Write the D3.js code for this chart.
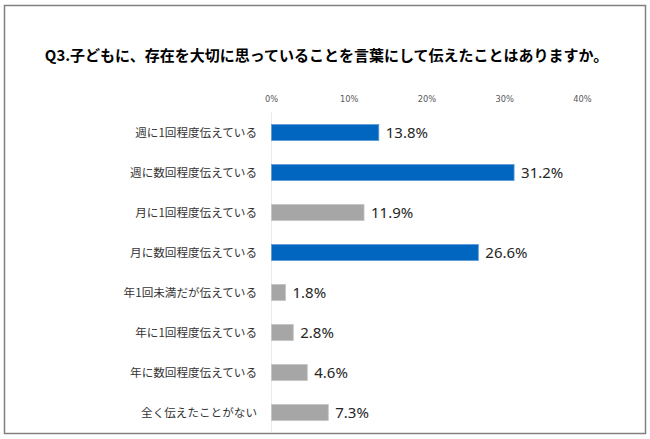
<!DOCTYPE html>
<html><head><meta charset="utf-8">
<script src="https://cdn.jsdelivr.net/npm/d3@7"></script>
<style>body{margin:0;background:#fff}svg{display:block}</style>
</head><body>
<script>
const title = "Q3.子どもに、存在を大切に思っていることを言葉にして伝えたことはありますか。";
const categories = ["週に1回程度伝えている","週に数回程度伝えている","月に1回程度伝えている","月に数回程度伝えている","年1回未満だが伝えている","年に1回程度伝えている","年に数回程度伝えている","全く伝えたことがない"];
const values = [13.8, 31.2, 11.9, 26.6, 1.8, 2.8, 4.6, 7.3];
const highlighted = [true, true, false, true, false, false, false, false];
const ticks = [0, 10, 20, 30, 40];

const W = 650, H = 439;
const svg = d3.select("body").append("svg").attr("width", W).attr("height", H);

svg.append("rect").attr("x", 4.5).attr("y", 5.5).attr("width", 641).attr("height", 428)
  .attr("fill", "#fff").attr("stroke", "#808080").attr("stroke-width", 1.5);

svg.append("text").attr("x", 326.5).attr("y", 60.5).attr("text-anchor", "middle")
  .attr("font-family", "'Noto Sans CJK JP', sans-serif").attr("font-weight", "bold")
  .attr("font-size", 15).attr("fill", "#000").text(title);

const x = d3.scaleLinear().domain([0, 40]).range([271.5, 582.5]);
const y = d3.scaleBand().domain(categories).range([112.5, 432.5]).paddingInner(0.6).paddingOuter(0.3);

// tick labels
svg.append("g").selectAll("text").data(ticks).join("text")
  .attr("x", d => x(d)).attr("y", 102).attr("text-anchor", "middle")
  .attr("font-family", "'DejaVu Sans', sans-serif").attr("font-size", 8.3)
  .attr("fill", "#595959").text(d => d + "%");

// zero line
svg.append("line").attr("x1", x(0)).attr("x2", x(0)).attr("y1", 112).attr("y2", 432)
  .attr("stroke", "#ebebeb").attr("stroke-width", 1);

const data = categories.map((c, i) => ({c, v: values[i], h: highlighted[i]}));

svg.append("g").selectAll("rect").data(data).join("rect")
  .attr("x", x(0)).attr("y", d => y(d.c))
  .attr("width", d => x(d.v) - x(0)).attr("height", y.bandwidth())
  .attr("fill", d => d.h ? "#0066c0" : "#a6a6a6")
  .attr("stroke", d => d.h ? "#5b9bd5" : "#c4c4c4").attr("stroke-width", 0.8);

svg.append("g").selectAll("text").data(data).join("text")
  .attr("x", 257).attr("y", d => y(d.c) + y.bandwidth() / 2 + 4.2)
  .attr("text-anchor", "end")
  .attr("font-family", "'Noto Sans CJK JP', sans-serif").attr("font-size", 11.6)
  .attr("fill", "#333").text(d => d.c);

svg.append("g").selectAll("text").data(data).join("text")
  .attr("x", d => x(d.v) + 7).attr("y", d => y(d.c) + y.bandwidth() / 2 + 5.8)
  .attr("font-family", "'Noto Sans', sans-serif").attr("font-size", 15)
  .attr("fill", "#262626").text(d => d.v.toFixed(1) + "%");
</script>
</body></html>
